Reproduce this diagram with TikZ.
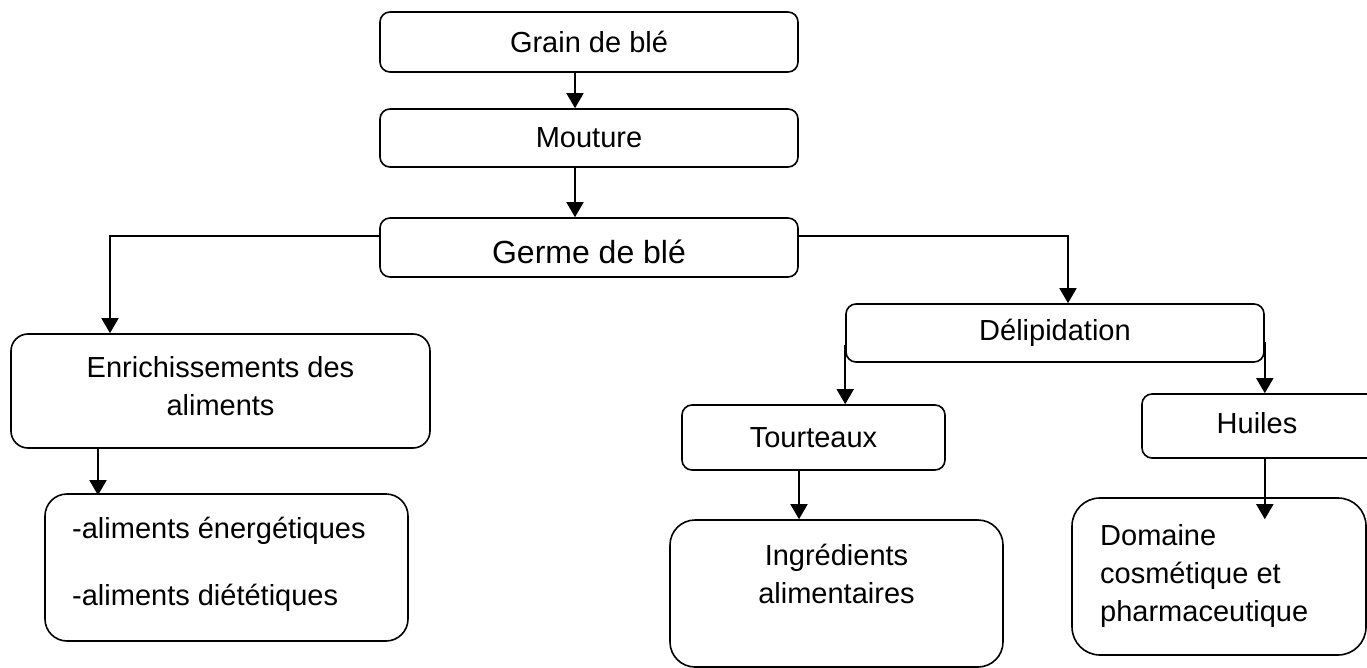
\documentclass[tikz,border=0pt]{standalone}
\usepackage{fontspec}
\setmainfont{Liberation Sans}
\usetikzlibrary{arrows.meta}
\tikzset{
  box/.style={draw, line width=1.6pt, rounded corners=10pt, inner sep=0pt, font=\fontsize{29}{38}\selectfont},
  txt/.style={inner sep=0pt, font=\fontsize{29}{38}\selectfont},
  arr/.style={line width=1.6pt, -{Triangle[width=17pt,length=15pt]}},
  ln/.style={line width=1.6pt}
}
\begin{document}
\begin{tikzpicture}[x=1pt,y=-1pt]
\useasboundingbox (0,0) rectangle (1367,668);
\clip (0,0) rectangle (1367,668);
% top chain
\node[box, minimum width=418pt, minimum height=60pt] (grain) at (589,42) {Grain de blé};
\node[box, minimum width=418pt, minimum height=58pt] (mout) at (589,138) {Mouture};
\node[box, minimum width=418pt, minimum height=59pt, font=\fontsize{32}{38}\selectfont, text height=31pt, text depth=0pt] (germe) at (589,247.5) {Germe de blé};
% left branch
\node[box, rounded corners=17pt, minimum width=419pt, minimum height=114pt] (enrich) at (220.5,391) {};
\node[txt, align=center, anchor=north] (enrichT) at (220.5,356) {Enrichissements des\\aliments};
\node[box, rounded corners=22pt, minimum width=363pt, minimum height=147pt] (alim) at (226.5,567.5) {};
\node[txt, align=left, anchor=north west, font=\fontsize{29}{67}\selectfont] (alimT) at (72,516.5) {-aliments énergétiques\\-aliments diététiques};
% right branch
\node[box, minimum width=418pt, minimum height=58pt] (delip) at (1055,333) {Délipidation};
\node[box, minimum width=263pt, minimum height=65pt] (tourt) at (813.5,437.5) {Tourteaux};
\node[box, minimum width=238pt, minimum height=64pt] (huiles) at (1261,426) {};
\node[txt] (huilesT) at (1257,423) {Huiles};
\node[box, rounded corners=25pt, minimum width=333pt, minimum height=147pt] (ingr) at (836.5,593.5) {};
\node[txt, align=center, anchor=north] (ingrT) at (836.5,543.5) {Ingrédients\\alimentaires};
\node[box, rounded corners=28pt, minimum width=294pt, minimum height=157pt] (dom) at (1219,576.5) {};
\node[txt, align=left, anchor=north west] (domT) at (1100,524) {Domaine\\cosmétique et\\pharmaceutique};
% connectors
\draw[arr] ([xshift=-14pt]grain.south) -- ([xshift=-14pt]mout.north);
\draw[arr] ([xshift=-14pt]mout.south) -- ([xshift=-14pt]germe.north);
\draw[arr] ([yshift=11.5pt]germe.west) -| ([xshift=-110.5pt]enrich.north);
\draw[arr] ([xshift=-122.5pt]enrich.south) -- ([xshift=-122.5pt,yshift=-2pt]enrich.south |- alim.north);
\draw[arr] ([yshift=11.5pt]germe.east) -| ([xshift=13pt]delip.north);
\draw[arr] ([yshift=-12pt]delip.west) -- (delip.west |- tourt.north);
\draw[arr] ([yshift=-9pt]delip.east) -- (delip.east |- huiles.north);
\draw[arr] ([xshift=-14.5pt]tourt.south) -- ([xshift=-14.5pt]tourt.south |- ingr.north);
\draw[arr] (delip.east |- huiles.south) -- ([yshift=-22pt]delip.east |- dom.north);
\end{tikzpicture}
\end{document}
